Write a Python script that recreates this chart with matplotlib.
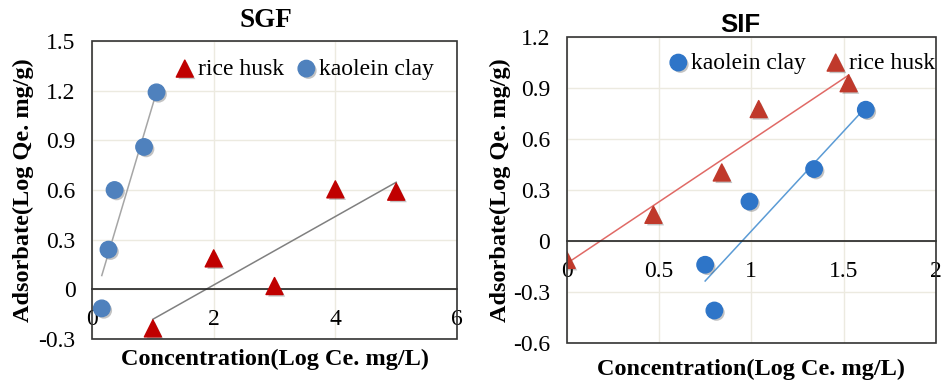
import numpy as np
import matplotlib
matplotlib.use('Agg')
import matplotlib.pyplot as plt
import matplotlib.patheffects as pe
from matplotlib.patches import Rectangle
from matplotlib.ticker import FuncFormatter, MultipleLocator

plt.rcParams['font.family'] = ['Liberation Serif', 'DejaVu Serif']
plt.rcParams['axes.unicode_minus'] = False

# SGF panel
sgf_clay_x = [0.16, 0.27, 0.37, 0.855, 1.06]
sgf_clay_y = [-0.115, 0.24, 0.60, 0.86, 1.19]
sgf_husk_x = [1, 2, 3, 4, 5]
sgf_husk_y = [-0.236, 0.187, 0.02, 0.604, 0.59]

# SIF panel
sif_clay_x = [0.75, 0.80, 0.99, 1.34, 1.62]
sif_clay_y = [-0.138, -0.407, 0.234, 0.425, 0.774]
sif_husk_x = [0.0, 0.47, 0.84, 1.04, 1.527]
sif_husk_y = [-0.109, 0.156, 0.405, 0.778, 0.93]

fig = plt.figure(figsize=(9.46, 3.85), dpi=100)
ax1 = fig.add_axes([0.0973, 0.1195, 0.3858, 0.774])
ax2 = fig.add_axes([0.599, 0.1083, 0.3904, 0.7948])

shadow = [pe.SimplePatchShadow(offset=(1.5, -1.5), shadow_rgbFace='#555555', alpha=0.35), pe.Normal()]
fmt = FuncFormatter(lambda v, p: '%g' % round(v, 2))


def trend(ax, x, y, color):
    k, b = np.polyfit(x, y, 1)
    xs = np.array([min(x), max(x)])
    ax.plot(xs, k * xs + b, color=color, lw=1.1, zorder=2)


def style(ax, xlim, ylim, xstep, ystep):
    ax.set_xlim(*xlim)
    ax.set_ylim(*ylim)
    ax.xaxis.set_major_locator(MultipleLocator(xstep))
    ax.yaxis.set_major_locator(MultipleLocator(ystep))
    ax.xaxis.set_major_formatter(fmt)
    ax.yaxis.set_major_formatter(fmt)
    ax.grid(True, color='#ECEAE0', lw=1, zorder=0)
    ax.set_axisbelow(True)
    for s in ['top', 'right', 'left']:
        ax.spines[s].set_visible(False)
    ax.spines['bottom'].set_position(('data', 0))
    ax.spines['bottom'].set_color('#222222')
    ax.spines['bottom'].set_linewidth(1.2)
    ax.add_patch(Rectangle((0, 0), 1, 1, transform=ax.transAxes, fill=False,
                           edgecolor='#333333', lw=1.2, zorder=5, clip_on=False))
    ax.tick_params(length=0, labelsize=17, pad=12)
    ax.tick_params(axis='x', pad=14)


# left: SGF
style(ax1, (0, 6), (-0.3, 1.5), 2, 0.3)
trend(ax1, sgf_clay_x, sgf_clay_y, '#A6A6A6')
trend(ax1, sgf_husk_x, sgf_husk_y, '#808080')
ax1.scatter(sgf_husk_x, sgf_husk_y, marker='^', s=150, color='#C00000', zorder=4,
            label='rice husk', path_effects=shadow)
ax1.scatter(sgf_clay_x, sgf_clay_y, marker='o', s=140, color='#4F81BD', zorder=4,
            label='kaolein clay', path_effects=shadow)
ax1.legend(loc='center', bbox_to_anchor=(0.578, 0.906), ncol=2, frameon=False,
           fontsize=17, handletextpad=0.0, columnspacing=0.4, handlelength=1.1)
ax1.set_title('SGF', fontsize=19.5, fontweight='bold', x=0.475, pad=10)
ax1.set_xlabel('Concentration(Log Ce. mg/L)', fontsize=17.5, fontweight='bold')
ax1.set_ylabel('Adsorbate(Log Qe. mg/g)', fontsize=17.5, fontweight='bold')
ax1.xaxis.set_label_coords(0.5, -0.034)
ax1.yaxis.set_label_coords(-0.16, 0.5)

# right: SIF
style(ax2, (0, 2), (-0.6, 1.2), 0.5, 0.3)
trend(ax2, sif_husk_x, sif_husk_y, '#E06A66')
trend(ax2, sif_clay_x, sif_clay_y, '#5B9BD5')
ax2.scatter(sif_clay_x, sif_clay_y, marker='o', s=140, color='#2E75C8', zorder=4,
            label='kaolein clay', path_effects=shadow)
ax2.scatter(sif_husk_x, sif_husk_y, marker='^', s=150, color='#C0392B', zorder=4,
            label='rice husk', path_effects=shadow)
ax2.legend(loc='center', bbox_to_anchor=(0.632, 0.916), ncol=2, frameon=False,
           fontsize=17, handletextpad=0.0, columnspacing=0.7, handlelength=1.1)
ax2.set_title('SIF', fontsize=18.5, fontweight='bold', family='Liberation Sans', x=0.47, pad=3)
ax2.set_xlabel('Concentration(Log Ce. mg/L)', fontsize=17.5, fontweight='bold')
ax2.set_ylabel('Adsorbate(Log Qe. mg/g)', fontsize=17.5, fontweight='bold')
ax2.xaxis.set_label_coords(0.5, -0.052)
ax2.yaxis.set_label_coords(-0.15, 0.5)

fig.savefig('out.png', dpi=100)
